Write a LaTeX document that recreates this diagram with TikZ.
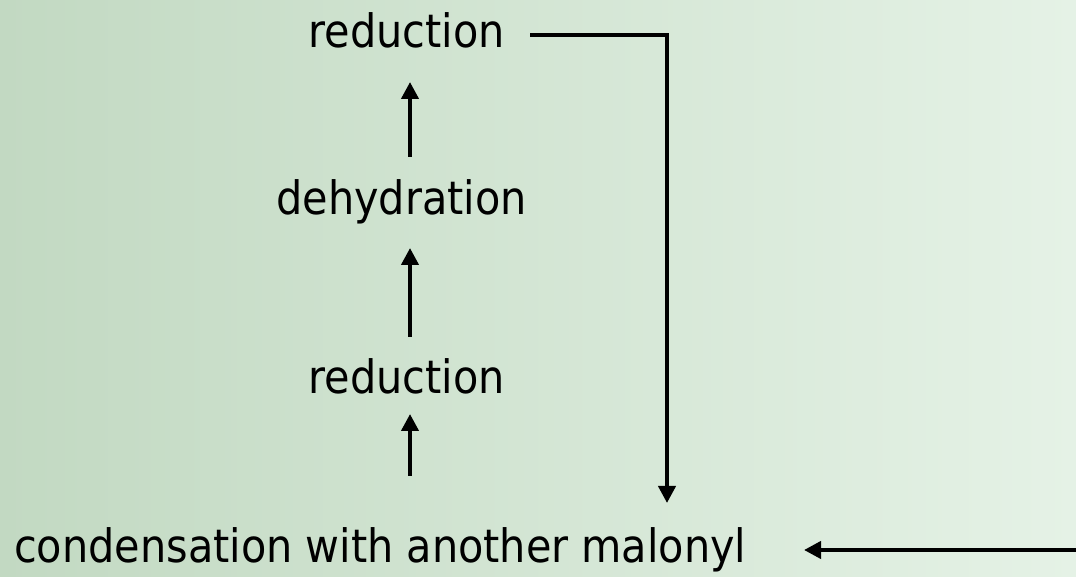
\documentclass[tikz,border=0pt]{standalone}
\usepackage{fontspec}
\setmainfont{DejaVu Sans Condensed}
\usetikzlibrary{arrows.meta}
\definecolor{bgleft}{RGB}{194,217,194}
\definecolor{bgright}{RGB}{229,242,230}
\tikzset{
  lbl/.style={font=\fontsize{46}{50}\selectfont, inner sep=0pt, anchor=base},
  conn/.style={line width=4pt, -{Triangle[width=17pt,length=17pt]}}
}
\begin{document}
\begin{tikzpicture}[x=1pt,y=1pt]
\useasboundingbox (0,0) rectangle (1076,577);
\shade[left color=bgleft, right color=bgright] (0,0) rectangle (1076,577);
\node[lbl] (red1) at (406.5,529) {reduction};
\node[lbl] (dehyd) at (401.5,362) {dehydration};
\node[lbl] (red2) at (406.5,183) {reduction};
\node[lbl, anchor=base west] (cond) at (14,14) {condensation with another malonyl};
% vertical arrows
\coordinate (a1s) at (410,420);
\coordinate (a1e) at (410,495);
\coordinate (a2s) at (410,240);
\coordinate (a2e) at (410,329);
\coordinate (a3s) at (410,101);
\coordinate (a3e) at (410,163);
\draw[conn] (a1s) -- (a1e);
\draw[conn] (a2s) -- (a2e);
\draw[conn] (a3s) -- (a3e);
% loop back
\coordinate (ls) at (530,542);
\coordinate (lc) at (667,542);
\coordinate (le) at (667,74);
\draw[conn, line join=miter] (ls) -- (lc) -- (le);
% incoming
\coordinate (in) at (1076,27);
\coordinate (inend) at (804,27);
\draw[conn] (in) -- (inend);
\end{tikzpicture}
\end{document}
